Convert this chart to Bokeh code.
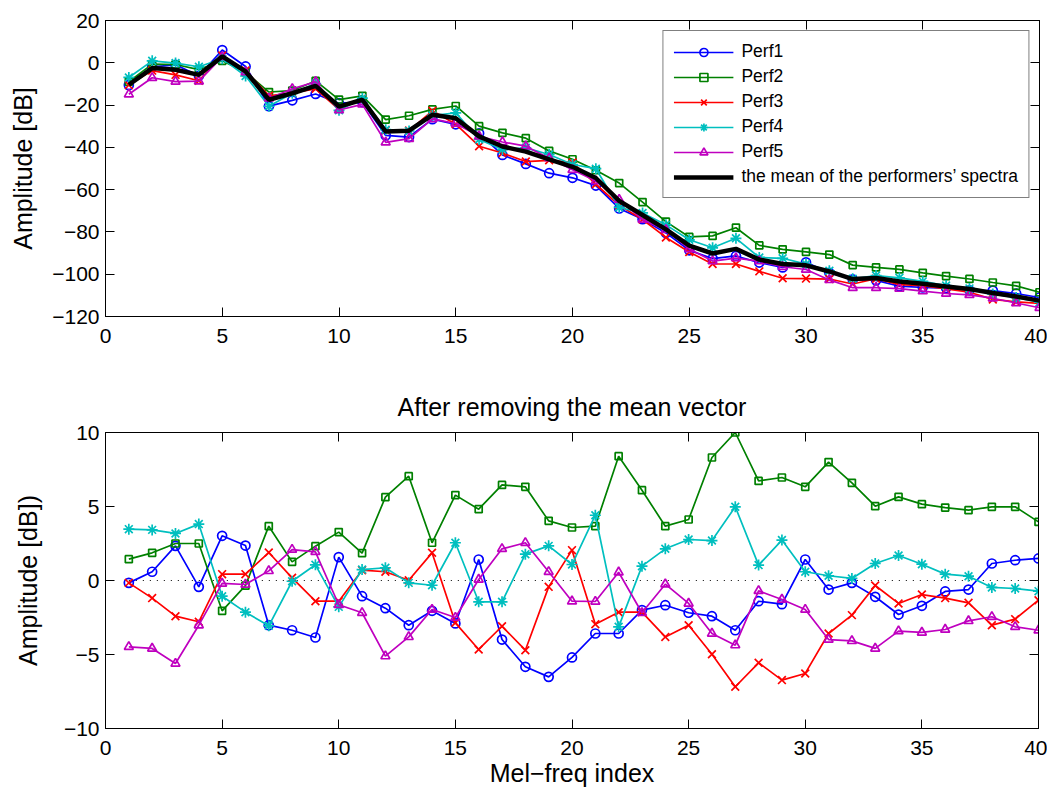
from bokeh.plotting import figure
from bokeh.layouts import column
from bokeh.models import LinearAxis, FixedTicker, Legend, LegendItem, Range1d
from bokeh.embed import file_html
from bokeh.resources import INLINE

# ---------------- data ----------------
mel_index = list(range(1, 41))

mean_spectrum = [-10.4, -2.5, -3.3, -5.7, 3.0, -4.1, -17.5, -14.4, -10.9, -20.7,
                 -17.5, -32.5, -32.1, -24.6, -26.2, -34.8, -39.6, -42.0, -45.7, -49.2,
                 -54.5, -65.3, -72.0, -78.8, -86.5, -90.2, -88.0, -93.1, -95.2, -95.8,
                 -98.7, -102.3, -101.8, -103.4, -104.5, -105.8, -107.0, -108.9, -110.5, -112.5]

dev_perf1 = [-0.16, 0.59, 2.34, -0.43, 3.02, 2.36, -3.02, -3.36, -3.85, 1.58,
             -1.06, -1.87, -3.02, -2.05, -2.9, 1.42, -3.99, -5.83, -6.51, -5.2,
             -3.58, -3.58, -2.0, -1.67, -2.18, -2.41, -3.36, -1.4, -1.6, 1.42,
             -0.61, -0.16, -1.1, -2.3, -1.71, -0.74, -0.61, 1.15, 1.37, 1.49]
dev_perf2 = [1.44, 1.87, 2.5, 2.5, -2.05, -0.35, 3.67, 1.26, 2.32, 3.27,
             1.85, 5.63, 7.05, 2.55, 5.77, 4.82, 6.46, 6.33, 4.03, 3.58,
             3.67, 8.4, 6.1, 3.67, 4.12, 8.31, 10.0, 6.73, 6.96, 6.33,
             8.0, 6.6, 5.02, 5.65, 5.16, 4.93, 4.75, 4.98, 4.98, 3.96]
dev_perf3 = [-0.16, -1.19, -2.41, -2.79, 0.43, 0.43, 1.89, 0.18, -1.4, -1.4,
             0.7, 0.59, 0.02, 1.87, -2.86, -4.66, -3.09, -4.71, -0.43, 2.05,
             -2.95, -2.14, -2.14, -3.81, -3.02, -4.98, -7.18, -5.56, -6.73, -6.28,
             -3.58, -2.34, -0.34, -1.55, -0.95, -1.19, -1.51, -3.02, -2.61, -1.33]
dev_perf4 = [3.47, 3.42, 3.18, 3.81, -1.06, -2.14, -3.06, -0.05, 1.06, -1.78,
             0.74, 0.86, -0.16, -0.32, 2.55, -1.44, -1.44, 1.78, 2.34, 1.08,
             4.41, -3.13, 0.97, 2.14, 2.77, 2.7, 4.98, 1.04, 2.73, 0.59,
             0.32, 0.14, 1.15, 1.69, 1.1, 0.43, 0.29, -0.47, -0.54, -0.72]
dev_perf5 = [-4.48, -4.59, -5.61, -3.02, -0.2, -0.27, 0.65, 2.09, 1.94, -1.64,
             -2.18, -5.11, -3.81, -1.96, -2.5, 0.07, 2.14, 2.55, 0.59, -1.4,
             -1.42, 0.56, -2.18, -0.25, -1.55, -3.58, -4.37, -0.7, -1.28, -1.96,
             -3.99, -4.08, -4.59, -3.42, -3.51, -3.31, -2.73, -2.45, -3.13, -3.36]

series_names = ["Perf1", "Perf2", "Perf3", "Perf4", "Perf5"]
mean_label = "the mean of the performers\u2019 spectra"

x_ticks = [0, 5, 10, 15, 20, 25, 30, 35, 40]
top_y_ticks = [20, 0, -20, -40, -60, -80, -100, -120]
bottom_y_ticks = [10, 5, 0, -5, -10]

top_ylabel = "Amplitude [dB]"
bottom_ylabel = "Amplitude [dB])"
bottom_xlabel = "Mel\u2212freq index"
bottom_title = "After removing the mean vector"

# ---------------- style ----------------
FONT = "Liberation Sans"
colors = ["#0000ff", "#008000", "#ff0000", "#00bfbf", "#bf00bf"]
markers = ["circle", "square", "x", "asterisk", "triangle"]
msizes = [9, 7, 11, 11, 9]
LW = 1.7

devs = [dev_perf1, dev_perf2, dev_perf3, dev_perf4, dev_perf5]
spectra = [[m + d for m, d in zip(mean_spectrum, dv)] for dv in devs]


def fmt(v):
    return ("\u2212" + str(abs(v))) if v < 0 else str(v)


def base_axis(ax):
    ax.axis_line_color = "black"
    ax.axis_line_width = 1
    ax.major_tick_in = 9
    ax.major_tick_out = 0
    ax.major_tick_line_color = "black"
    ax.major_tick_line_width = 1
    ax.minor_tick_line_color = None
    ax.major_label_text_font = FONT
    ax.major_label_text_color = "black"
    ax.axis_label_text_font = FONT
    ax.axis_label_text_font_style = "normal"
    ax.axis_label_text_color = "black"
    ax.axis_label_text_font_size = "25px"
    ax.major_label_text_font_size = "21px"


def style(p, yticks):
    p.xgrid.visible = False
    p.ygrid.visible = False
    p.outline_line_color = "black"
    p.outline_line_width = 1
    p.background_fill_color = "white"
    p.border_fill_color = "white"
    xt = FixedTicker(ticks=x_ticks)
    yt = FixedTicker(ticks=yticks)
    bx = p.below[0]
    ly = p.left[0]
    bx.ticker = xt
    bx.major_label_overrides = {v: fmt(v) for v in x_ticks}
    ly.ticker = yt
    ly.major_label_overrides = {v: fmt(v) for v in yticks}
    base_axis(bx)
    base_axis(ly)
    bx.major_label_standoff = 12
    ly.major_label_standoff = 6
    top = LinearAxis(ticker=xt)
    right = LinearAxis(ticker=yt)
    for ax in (top, right):
        base_axis(ax)
        ax.major_label_text_font_size = "0px"
        ax.major_label_standoff = 0
        ax.major_label_text_alpha = 0
    p.add_layout(top, "above")
    p.add_layout(right, "right")
    return bx, ly


# ---------------- top figure ----------------
p1 = figure(frame_width=934, frame_height=296,
            x_range=Range1d(x_ticks[0], x_ticks[-1]),
            y_range=Range1d(top_y_ticks[-1], top_y_ticks[0]),
            output_backend="svg", toolbar_location=None,
            min_border_left=105, min_border_right=8,
            min_border_top=20, min_border_bottom=54)
bx1, ly1 = style(p1, top_y_ticks)
ly1.axis_label = top_ylabel
ly1.axis_label_standoff = 12

items = []
for name, col, mk, ms, ys in zip(series_names, colors, markers, msizes, spectra):
    ln = p1.line(mel_index, ys, line_color=col, line_width=LW)
    sc = p1.scatter(mel_index, ys, marker=mk, size=ms, line_color=col,
                    fill_color=None, line_width=LW)
    items.append(LegendItem(label=name, renderers=[ln, sc]))
mline = p1.line(mel_index, mean_spectrum, line_color="black", line_width=4.5)
items.append(LegendItem(label=mean_label, renderers=[mline]))

legend = Legend(items=items, location="top_right")
legend.label_text_font = FONT
legend.label_text_font_size = "17.5px"
legend.label_text_color = "black"
legend.border_line_color = "black"
legend.border_line_width = 1
legend.background_fill_color = "white"
legend.background_fill_alpha = 1
legend.glyph_width = 60
legend.glyph_height = 20
legend.label_height = 20
legend.spacing = 4
legend.padding = 10
legend.margin = 10
legend.label_standoff = 8
p1.add_layout(legend)

# ---------------- bottom figure ----------------
p2 = figure(frame_width=933, frame_height=296,
            x_range=Range1d(x_ticks[0], x_ticks[-1]),
            y_range=Range1d(bottom_y_ticks[-1], bottom_y_ticks[0]),
            output_backend="svg", toolbar_location=None,
            min_border_left=103, min_border_right=11,
            min_border_top=62, min_border_bottom=59)
bx2, ly2 = style(p2, bottom_y_ticks)
ly2.axis_label = bottom_ylabel
ly2.axis_label_standoff = 19
bx2.axis_label = bottom_xlabel
bx2.axis_label_standoff = 1
p2.title.text = bottom_title
p2.title.align = "center"
p2.title.text_font = FONT
p2.title.text_font_size = "25px"
p2.title.text_font_style = "normal"
p2.title.text_color = "black"
p2.title.standoff = 24

p2.line([mel_index[0], mel_index[-1]], [0, 0], line_color="black",
        line_width=1.2, line_dash="1 6")
for name, col, mk, ms, ys in zip(series_names, colors, markers, msizes, devs):
    p2.line(mel_index, ys, line_color=col, line_width=LW)
    p2.scatter(mel_index, ys, marker=mk, size=ms, line_color=col,
               fill_color=None, line_width=LW)

layout = column(p1, p2, spacing=0)
open("out.html", "w").write(file_html(layout, INLINE))
